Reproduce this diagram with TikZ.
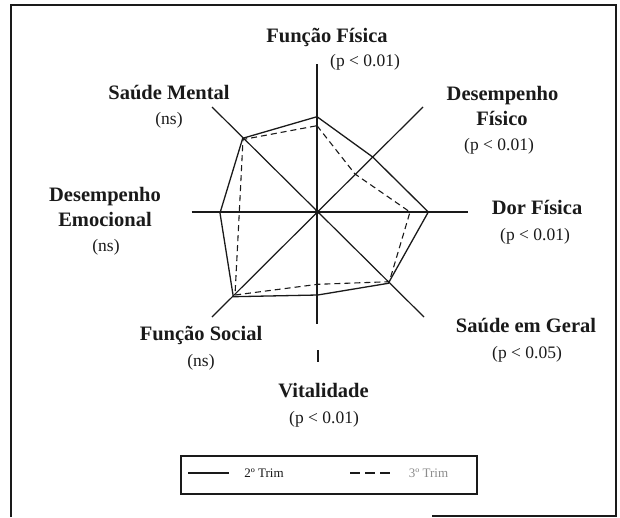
\documentclass[tikz,border=0pt]{standalone}
\usepackage{fontspec}
\setmainfont{Liberation Serif}
\definecolor{ink}{HTML}{1A1A1A}
\definecolor{faded}{HTML}{8C8C8C}
\begin{document}
\begin{tikzpicture}[x=1pt,y=-1pt,
  lab/.style={font=\fontsize{20.5}{24}\selectfont\bfseries, anchor=base, inner sep=0pt, text=ink},
  pval/.style={font=\fontsize{17.5}{20}\selectfont, anchor=base, inner sep=0pt, text=ink},
  axisline/.style={line width=1.2pt, draw=ink},
  ser2/.style={line width=1.3pt, draw=ink, line join=miter},
  ser3/.style={line width=1.1pt, draw=ink, dash pattern=on 6pt off 4pt},
  legtxt/.style={font=\fontsize{13}{15}\selectfont, anchor=base, inner sep=0pt},
  framed/.style={line width=1.2pt, draw=ink}]
\useasboundingbox (0,0) rectangle (620,517);
\fill[white] (0,0) rectangle (620,517);

% outer frame (bottom edge only partly printed)
\coordinate (fBL) at (11,517);
\coordinate (fTL) at (11,5);
\coordinate (fTR) at (616,5);
\coordinate (fBR) at (616,516);
\coordinate (fBM) at (432,516);
\draw[framed] (fBL) -- (fTL) -- (fTR) -- (fBR) -- (fBM);

% axes
\coordinate (C) at (317,212);
\coordinate (aN) at (317,64);
\coordinate (aS) at (317,324);
\coordinate (aW) at (191.5,212);
\coordinate (aE) at (468,212);
\coordinate (aNW) at (212,107);
\coordinate (aNE) at (423,107);
\coordinate (aSW) at (212,317);
\coordinate (aSE) at (424,317);
\coordinate (tickA) at (318,350);
\coordinate (tickB) at (318,362);
\draw[axisline] (aN) -- (aS);
\draw[axisline] (aW) -- (aE);
\draw[axisline] (aNW) -- (aSE);
\draw[axisline] (aNE) -- (aSW);
\draw[axisline] (tickA) -- (tickB);
\fill[ink] (C) circle (2.3pt);

% 2º Trim (solid)
\coordinate (s1) at (317,116.7);
\coordinate (s2) at (372.7,157);
\coordinate (s3) at (428.3,212);
\coordinate (s4) at (388.3,283.3);
\coordinate (s5) at (317.7,295);
\coordinate (s6) at (233.3,296.7);
\coordinate (s7) at (220,213);
\coordinate (s8) at (242.7,138.3);
\draw[ser2] (s1) -- (s2) -- (s3) -- (s4) -- (s5) -- (s6) -- (s7) -- (s8) -- cycle;

% 3º Trim (dashed)
\coordinate (d1) at (317,125.7);
\coordinate (d2) at (355,174);
\coordinate (d3) at (410,212);
\coordinate (d4) at (389.3,281.7);
\coordinate (d5) at (317.7,284.3);
\coordinate (d6) at (235,295);
\coordinate (d7) at (239.3,212);
\coordinate (d8) at (243,139.5);
\draw[ser3] (d1) -- (d2) -- (d3) -- (d4) -- (d5) -- (d6) -- (d7) -- (d8) -- cycle;

% labels
\node[lab] (ffL) at (327,42.7) {Função Física};
\node[pval] (ffP) at (365,66) {(p < 0.01)};
\node[lab] (dfL1) at (502.5,100.7) {Desempenho};
\node[lab] (dfL2) at (502,125) {Físico};
\node[pval] (dfP) at (499,150) {(p < 0.01)};
\node[lab] (dorL) at (537,214) {Dor Física};
\node[pval] (dorP) at (535,240) {(p < 0.01)};
\node[lab] (sgL) at (526,332.7) {Saúde em Geral};
\node[pval] (sgP) at (527,358) {(p < 0.05)};
\node[lab] (vitL) at (323.5,397) {Vitalidade};
\node[pval] (vitP) at (324,423) {(p < 0.01)};
\node[lab] (fsL) at (201,340) {Função Social};
\node[pval] (fsP) at (201,366.5) {(ns)};
\node[lab] (deL1) at (105,201.7) {Desempenho};
\node[lab] (deL2) at (105,226.7) {Emocional};
\node[pval] (deP) at (106,251) {(ns)};
\node[lab] (smL) at (169,99) {Saúde Mental};
\node[pval] (smP) at (169,124) {(ns)};

% legend
\coordinate (lgTL) at (181,456);
\coordinate (lgBR) at (477,494);
\draw[framed] (lgTL) rectangle (lgBR);
\coordinate (l2a) at (188,473);
\coordinate (l2b) at (229,473);
\coordinate (l3a) at (350,473);
\coordinate (l3b) at (390,473);
\draw[ser2, line width=1.1pt] (l2a) -- (l2b);
\draw[ser3, dash pattern=on 10pt off 5pt] (l3a) -- (l3b);
\node[legtxt, text=ink] (lg2) at (264,477) {2º Trim};
\node[legtxt, text=faded] (lg3) at (428.5,477) {3º Trim};
\end{tikzpicture}
\end{document}
